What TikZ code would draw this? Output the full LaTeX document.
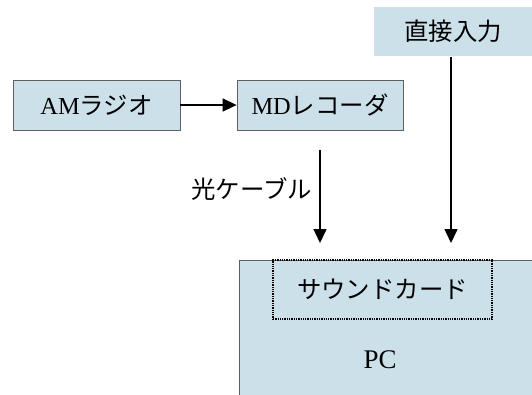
\documentclass[tikz,border=0pt]{standalone}
\usepackage{fontspec}
\setmainfont{Liberation Serif}
\newfontfamily\jpfont{Noto Sans CJK JP}
\usetikzlibrary{shapes,arrows.meta}

\definecolor{boxblue}{RGB}{204,224,234}
\definecolor{boxline}{RGB}{95,95,95}

\begin{document}
\begin{tikzpicture}[x=1bp,y=-1bp,
  every node/.style={font=\fontsize{24.5}{28}\selectfont},
  unit/.style={draw=boxline, rectangle, fill=boxblue, line width=0.8bp, inner sep=0pt, minimum height=50bp},
  flow/.style={-{Triangle[length=14bp,width=13bp]}, line width=1.5bp}]
 \useasboundingbox (0,0) rectangle (532,394);
 \clip (0,0) rectangle (532,394);

 \node (direct) [rectangle, fill=boxblue, inner sep=0pt, minimum width=158bp, minimum height=49bp] at (453,31.5) {\jpfont 直接入力};
 \node (amradio) [unit, minimum width=167bp] at (96.5,105) {AM{\jpfont ラジオ}};
 \node (mdrec) [unit, minimum width=166bp] at (320,105) {MD{\jpfont レコーダ}};
 \node (pc) [unit, anchor=north west, minimum width=300bp, minimum height=150bp] at (239,260) {};
 \node (soundcard) [rectangle, draw, densely dotted, line width=1.3bp, inner sep=0pt, minimum width=219bp, minimum height=59bp] at (382.5,289.5) {\jpfont サウンドカード};
 \node (pclabel) [font=\fontsize{27}{30}\selectfont] at (380,360) {PC};

 \draw[flow] (amradio) -- (mdrec);
 \draw[flow, shorten <=20bp, shorten >=17bp] (mdrec.south) -- node[left=4bp, pos=0.45] {\jpfont 光ケーブル} (mdrec.south |- pc.north);
 \draw[flow, shorten <=1bp, shorten >=17bp] ([xshift=-2bp]direct.south) -- ([xshift=-2bp]direct.south |- pc.north);
\end{tikzpicture}
\end{document}
